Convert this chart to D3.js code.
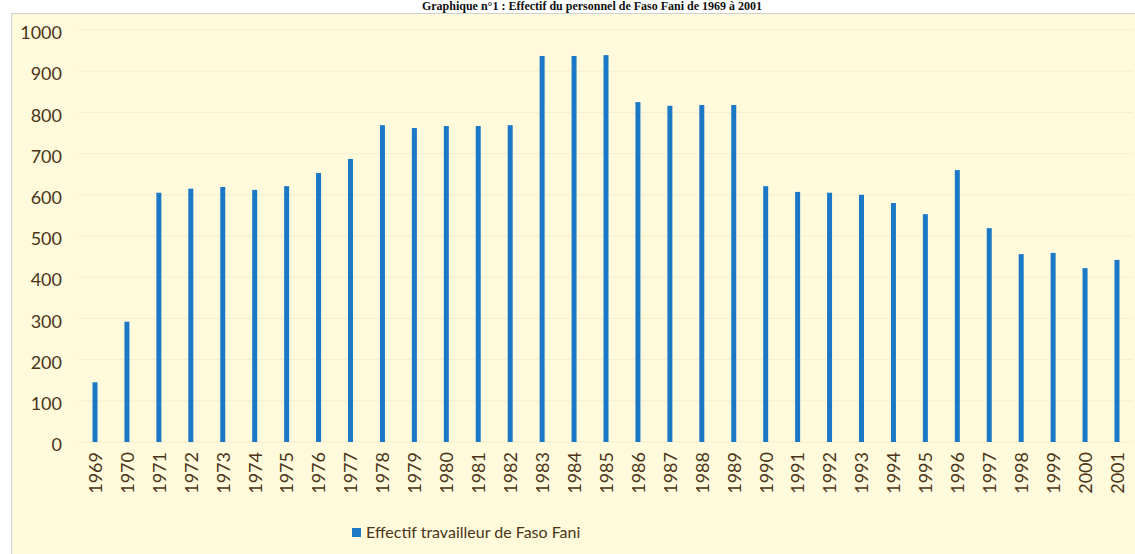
<!DOCTYPE html>
<html>
<head>
<meta charset="utf-8">
<script src="https://cdn.jsdelivr.net/npm/d3@7"></script>
<style>
  body { margin: 0; background: #fff; }
  svg { display: block; }
</style>
</head>
<body>
<div id="chart"></div>
<script>
// data
const years = ['1969','1970','1971','1972','1973','1974','1975','1976','1977','1978','1979',
  '1980','1981','1982','1983','1984','1985','1986','1987','1988','1989','1990',
  '1991','1992','1993','1994','1995','1996','1997','1998','1999','2000','2001'];
const effectif = [145, 292, 605, 615, 619, 612, 621, 653, 687, 769, 762,
  767, 767, 769, 937, 937, 939, 825, 816, 818, 818, 621,
  607, 605, 600, 580, 553, 660, 519, 456, 459, 422, 442];
const yTicks = [0, 100, 200, 300, 400, 500, 600, 700, 800, 900, 1000];
const seriesName = 'Effectif travailleur de Faso Fani';
const title = 'Graphique n°1 : Effectif du personnel de Faso Fani de 1969 à 2001';

const width = 1135;
const height = 554;
const barWidth = 5;
const textColor = '#4b3417';
const barColor = '#1b78c6';

let svg = d3.select('#chart')
  .append('svg')
  .attr('width', width)
  .attr('height', height);

// title, squeezed into the white strip above the panel
svg.append('text')
  .attr('x', 592)
  .attr('y', 10)
  .attr('text-anchor', 'middle')
  .style('font-family', '"Liberation Serif", serif')
  .style('font-weight', 'bold')
  .style('font-size', '12px')
  .attr('fill', '#111')
  .text(title);

// yellow panel
svg.append('rect')
  .attr('x', 11.5)
  .attr('y', 13.5)
  .attr('width', width)
  .attr('height', height)
  .attr('fill', '#fefadb')
  .attr('stroke', '#cfcfcf')
  .attr('stroke-width', 1);

let x = d3.scalePoint()
  .domain(years)
  .range([95, 1117]);

let y = d3.scaleLinear()
  .domain([0, 1000])
  .range([442, 30]);

// faint gridlines
svg.append('g')
  .selectAll('line')
  .data(yTicks)
  .enter()
  .append('line')
  .attr('x1', 78)
  .attr('x2', 1133)
  .attr('y1', d => y(d))
  .attr('y2', d => y(d))
  .attr('stroke', '#f6efcf')
  .attr('stroke-width', 1);

// y axis labels
let yAxis = svg.append('g')
  .attr('transform', 'translate(62,3)')
  .call(d3.axisLeft(y).tickValues(yTicks).tickFormat(d3.format('d')).tickSize(0).tickPadding(0));
yAxis.select('.domain').remove();
yAxis.selectAll('text')
  .style('font-family', 'Lato, "Open Sans", sans-serif')
  .style('font-size', '18px')
  .attr('fill', textColor);

// x axis labels, rotated
let xAxis = svg.append('g')
  .attr('transform', 'translate(0,452)')
  .call(d3.axisBottom(x).tickSize(0).tickPadding(0));
xAxis.select('.domain').remove();
xAxis.selectAll('text')
  .style('font-family', 'Lato, "Open Sans", sans-serif')
  .style('font-size', '18px')
  .attr('fill', textColor)
  .attr('text-anchor', 'end')
  .attr('dy', '0.35em')
  .attr('transform', 'rotate(-90)')
  .attr('x', 0)
  .attr('y', 0);

// bars
svg.append('g')
  .selectAll('rect')
  .data(effectif)
  .enter()
  .append('rect')
  .attr('x', (d, i) => x(years[i]) - barWidth / 2)
  .attr('y', d => y(d))
  .attr('width', barWidth)
  .attr('height', d => y(0) - y(d))
  .attr('fill', barColor);

// legend
let legend = svg.append('g')
  .attr('transform', 'translate(352,528)');
legend.append('rect')
  .attr('width', 9)
  .attr('height', 9)
  .attr('fill', barColor);
legend.append('text')
  .attr('x', 14)
  .attr('y', 10)
  .style('font-family', 'Lato, "Open Sans", sans-serif')
  .style('font-size', '16px')
  .attr('fill', textColor)
  .text(seriesName);
</script>
</body>
</html>
